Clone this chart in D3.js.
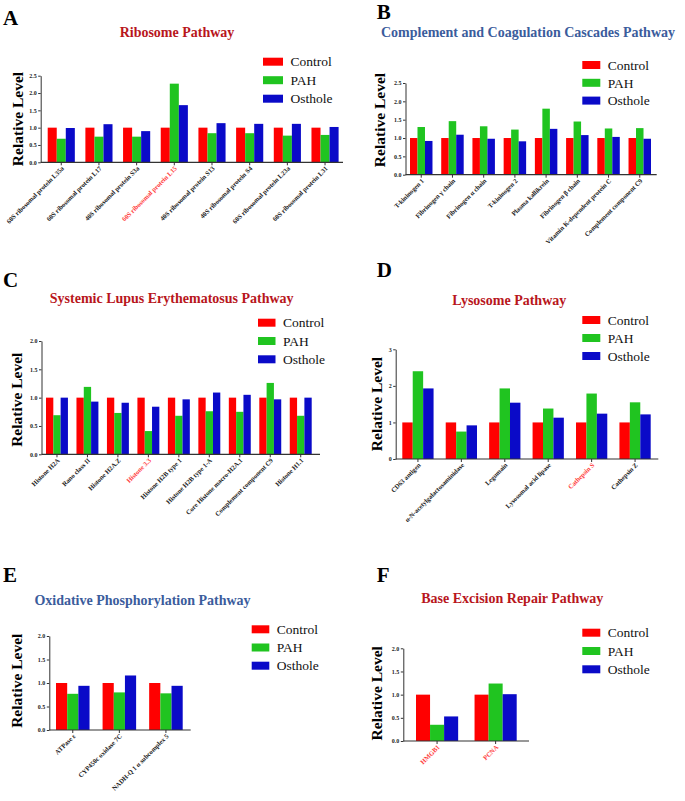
<!DOCTYPE html>
<html><head><meta charset="utf-8">
<script src="https://cdn.jsdelivr.net/npm/d3@7"></script>
<style>
html,body{margin:0;padding:0;background:#fff;}
svg{display:block;}
svg text{font-family:"Liberation Serif","Tinos","Times New Roman","DejaVu Serif",serif;}
</style></head>
<body>
<svg id="chart" width="685" height="801" font-family="Liberation Serif, serif"></svg>
<script>
// ---------- DATA ----------
const seriesNames = ["Control", "PAH", "Osthole"];

const aCategories = ["60S ribosomal protein L35a","60S ribosomal protein L17","40S ribosomal protein S3a","60S ribosomal protein L15","40S ribosomal protein S13","40S ribosomal protein S4","60S ribosomal protein L23a","60S ribosomal protein L31"];
const aControl = [1,1,1,1,1,1,1,1];
const aPAH     = [0.68,0.74,0.74,2.27,0.84,0.84,0.77,0.79];
const aOsthole = [0.99,1.10,0.90,1.65,1.13,1.11,1.11,1.02];
const aTicks   = [0,0.5,1.0,1.5,2.0,2.5];
const aHighlight = ["60S ribosomal protein L15"];

const bCategories = ["T-kininogen 1","Fibrinogen γ chain","Fibrinogen α chain","T-kininogen 2","Plasma kallikrein","Fibrinogen β chain","Vitamin K-dependent  protein C","Complement component C9"];
const bControl = [1,1,1,1,1,1,1,1];
const bPAH     = [1.30,1.46,1.32,1.23,1.80,1.45,1.26,1.27];
const bOsthole = [0.92,1.09,0.98,0.91,1.25,1.08,1.03,0.98];
const bTicks   = [0,0.5,1.0,1.5,2.0,2.5];
const bHighlight = [];

const cCategories = ["Histone H2A","Rano class II","Histone H2A.Z","Histone 3.3","Histone H2B type 1","Histone H2B type 1-A","Core Histone macro-H2A.1","Complement component C9","Histone H1.1"];
const cControl = [1,1,1,1,1,1,1,1,1];
const cPAH     = [0.69,1.19,0.73,0.41,0.68,0.76,0.75,1.26,0.68];
const cOsthole = [1.00,0.93,0.91,0.84,0.97,1.09,1.05,0.97,1.00];
const cTicks   = [0,0.5,1.0,1.5,2.0];
const cHighlight = ["Histone 3.3"];

const dCategories = ["CD63 antigen","α-N-acetylgalactosaminidase","Legumain","Lysosomal acid lipase","Cathepsin S","Cathepsin Z"];
const dControl = [1,1,1,1,1,1];
const dPAH     = [2.40,0.75,1.93,1.38,1.79,1.55];
const dOsthole = [1.93,0.92,1.54,1.13,1.24,1.22];
const dTicks   = [0,1,2,3];
const dHighlight = ["Cathepsin S"];

const eCategories = ["ATPase ε","CYP450c oxidase 7C","NADH-Q 1 α subcomplex  5"];
const eControl = [1,1,1];
const ePAH     = [0.77,0.80,0.78];
const eOsthole = [0.94,1.16,0.94];
const eTicks   = [0,0.5,1.0,1.5,2.0];
const eHighlight = [];

const fCategories = ["HMGB1","PCNA"];
const fControl = [1,1];
const fPAH     = [0.35,1.24];
const fOsthole = [0.53,1.01];
const fTicks   = [0,0.5,1.0,1.5,2.0];
const fHighlight = ["HMGB1","PCNA"];

// ---------- STYLE / LAYOUT ----------
const FONT = "Liberation Serif, Tinos, Times New Roman, DejaVu Serif, serif";
const colors = {Control:"#ff0000", PAH:"#20c420", Osthole:"#0a0ac8"};
const titleRed = "#b8161c", titleBlue = "#3b5c9c";

const panels = [
 {letter:"A", lx:3, ly:25, title:"Ribosome Pathway", tc:titleRed, tx:177, ty:37,
  cats:aCategories, vals:[aControl,aPAH,aOsthole], ticks:aTicks, hl:aHighlight, fmt:d3.format(".1f"),
  axisX:40.7, axisEnd:343, gr:[47.7,338.6], zero:162.3, top:75.7, ymax:2.5,
  leg:{x:263, w:20, y:61.7, dy:18.5}, ylab:[17.5,119]},
 {letter:"B", lx:376.7, ly:19, title:"Complement and Coagulation Cascades Pathway", tc:titleBlue, tx:528, ty:37,
  cats:bCategories, vals:[bControl,bPAH,bOsthole], ticks:bTicks, hl:bHighlight, fmt:d3.format(".1f"),
  axisX:405.5, axisEnd:656.7, gr:[410,651], zero:174.7, top:83, ymax:2.5,
  leg:{x:582.3, w:18, y:65, dy:17.8}, ylab:[379.7,120]},
 {letter:"C", lx:3, ly:286.7, title:"Systemic Lupus Erythematosus Pathway", tc:titleRed, tx:171.7, ty:303,
  cats:cCategories, vals:[cControl,cPAH,cOsthole], ticks:cTicks, hl:cHighlight, fmt:d3.format(".1f"),
  axisX:41.5, axisEnd:320, gr:[46,311.7], zero:454.3, top:341, ymax:2.0,
  leg:{x:258, w:17.5, y:322.7, dy:18.3}, ylab:[16.3,399.7]},
 {letter:"D", lx:376.7, ly:276.7, title:"Lysosome Pathway", tc:titleRed, tx:509.3, ty:305,
  cats:dCategories, vals:[dControl,dPAH,dOsthole], ticks:dTicks, hl:dHighlight, fmt:d3.format("d"),
  axisX:395.7, axisEnd:658.3, gr:[402.3,650.7], zero:459, top:349.3, ymax:3,
  leg:{x:582.3, w:18, y:320, dy:18}, ylab:[377,404]},
 {letter:"E", lx:3, ly:582, title:"Oxidative Phosphorylation Pathway", tc:titleBlue, tx:142.5, ty:605,
  cats:eCategories, vals:[eControl,ePAH,eOsthole], ticks:eTicks, hl:eHighlight, fmt:d3.format(".1f"),
  axisX:49.3, axisEnd:190.7, gr:[56,182.7], zero:730, top:636, ymax:2.0,
  leg:{x:251.7, w:17.6, y:629.3, dy:18.2}, ylab:[16.2,680.7]},
 {letter:"F", lx:376.7, ly:582, title:"Base Excision Repair Pathway", tc:titleRed, tx:512.3, ty:603.3,
  cats:fCategories, vals:[fControl,fPAH,fOsthole], ticks:fTicks, hl:fHighlight, fmt:d3.format(".1f"),
  axisX:403.3, axisEnd:529, gr:[416,516.7], zero:741, top:648.3, ymax:2.0,
  leg:{x:582.3, w:18, y:632.7, dy:18.3}, ylab:[377,693.3]}
];

const svg = d3.select("#chart");

function drawPanel(p) {
  const g = svg.append("g").attr("font-family", FONT);
  const x = d3.scaleBand().domain(p.cats).range(p.gr).paddingInner(0.28).paddingOuter(0);
  const xs = d3.scaleBand().domain(seriesNames).range([0, x.bandwidth()]);
  const y = d3.scaleLinear().domain([0, p.ymax]).range([p.zero, p.top]);

  g.append("text").attr("x", p.lx).attr("y", p.ly).attr("font-size", 21).attr("font-weight", "bold")
    .attr("font-family", FONT).attr("fill", "#000").text(p.letter);
  g.append("text").attr("x", p.tx).attr("y", p.ty).attr("text-anchor", "middle").attr("font-size", 14)
    .attr("font-family", FONT).attr("font-weight", "bold").attr("fill", p.tc).text(p.title);

  const rows = p.cats.map((c, i) => ({cat: c, vals: seriesNames.map((s, k) => ({s, v: p.vals[k][i]}))}));
  const grp = g.append("g").selectAll("g").data(rows).join("g")
    .attr("transform", d => `translate(${x(d.cat)},0)`);
  grp.selectAll("rect").data(d => d.vals).join("rect")
    .attr("x", d => xs(d.s)).attr("width", xs.bandwidth())
    .attr("y", d => y(d.v)).attr("height", d => y(0) - y(d.v))
    .attr("fill", d => colors[d.s]);

  const ya = g.append("g").attr("transform", `translate(${p.axisX},0)`)
    .call(d3.axisLeft(y).tickValues(p.ticks).tickFormat(p.fmt).tickSize(2.5).tickSizeOuter(0).tickPadding(1.5));
  ya.attr("font-family", FONT);
  ya.select(".domain").attr("stroke", "#333").attr("stroke-width", 1);
  ya.selectAll(".tick line").attr("stroke", "#333");
  ya.selectAll(".tick text").attr("font-size", 6).attr("font-weight", "bold").attr("fill", "#222")
    .attr("font-family", FONT);

  g.append("line").attr("x1", p.axisX).attr("x2", p.axisEnd).attr("y1", p.zero).attr("y2", p.zero)
    .attr("stroke", "#333").attr("stroke-width", 1.2);
  g.append("g").selectAll("line").data(p.cats).join("line")
    .attr("x1", d => x(d) + x.bandwidth()/2).attr("x2", d => x(d) + x.bandwidth()/2)
    .attr("y1", p.zero).attr("y2", p.zero + 3).attr("stroke", "#333");
  g.append("g").selectAll("text").data(p.cats).join("text")
    .attr("transform", d => `translate(${x(d) + x.bandwidth()/2 + 1.5},${p.zero + 5}) rotate(-45)`)
    .attr("text-anchor", "end").attr("dy", "0.35em").attr("font-size", 6.6).attr("font-weight", "bold")
    .attr("font-family", FONT)
    .attr("fill", d => p.hl.includes(d) ? "#ff3b3b" : "#222").text(d => d);

  g.append("text").attr("transform", `translate(${p.ylab[0]},${p.ylab[1]}) rotate(-90)`)
    .attr("text-anchor", "middle").attr("dy", "0.35em").attr("font-size", 15.5).attr("font-weight", "bold")
    .attr("font-family", FONT).attr("fill", "#000").text("Relative Level");

  const lg = g.append("g").selectAll("g").data(seriesNames).join("g")
    .attr("transform", (d, i) => `translate(${p.leg.x},${p.leg.y + i * p.leg.dy})`);
  lg.append("rect").attr("x", 0).attr("y", -4).attr("width", p.leg.w).attr("height", 8)
    .attr("fill", d => colors[d]);
  lg.append("text").attr("x", p.leg.w + 7.5).attr("y", 0).attr("dy", "0.35em").attr("font-size", 13.5)
    .attr("font-family", FONT).attr("fill", "#111").text(d => d);
}

panels.forEach(drawPanel);
</script>
</body></html>
